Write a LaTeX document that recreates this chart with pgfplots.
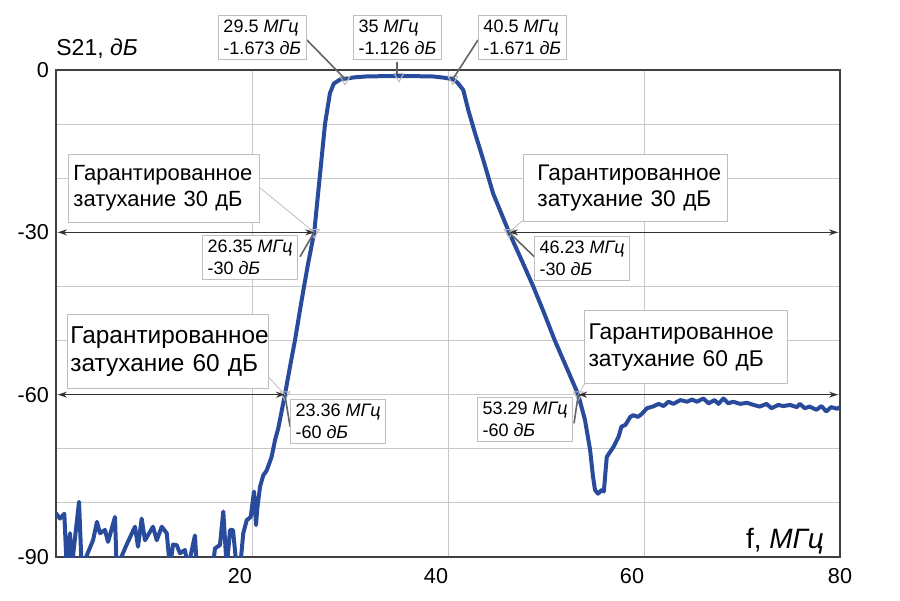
\documentclass[border=0pt]{standalone}
\usepackage{fontspec}
\setmainfont{Liberation Sans}
\usepackage{pgfplots}
\pgfplotsset{compat=1.18}
\usetikzlibrary{arrows.meta}
\definecolor{curveblue}{RGB}{40,76,155}
\definecolor{gridgray}{RGB}{200,200,200}
\definecolor{leadgray}{RGB}{100,100,100}
\definecolor{boxgray}{RGB}{190,190,190}

\begin{document}
\begin{tikzpicture}[
  smallbox/.style={draw=boxgray, fill=white, line width=0.5pt, align=left,
    font=\fontsize{9}{10.8}\selectfont, inner xsep=2.5pt, inner ysep=2.4pt},
  bigbox/.style={draw=boxgray, fill=white, line width=0.5pt, align=left, inner ysep=2pt},
  leader/.style={draw=leadgray, line width=0.8pt},
  thinleader/.style={draw=boxgray, line width=0.4pt},
  dimarrow/.style={draw=black!80, line width=0.6pt, {Stealth[length=4.5pt,width=3pt]}-{Stealth[length=4.5pt,width=3pt]}}
]
\begin{axis}[
  name=ax,
  scale only axis,
  width=392pt, height=243.5pt,
  xmin=0, xmax=80, ymin=-90, ymax=0,
  clip mode=individual,
  axis line style={draw=black!75, line width=0.9pt},
  xtick={20,40,60}, xticklabels={20,40,60},
  extra x ticks={80}, extra x tick labels={80},
  extra x tick style={grid=none, xticklabel style={xshift=6pt}},
  xticklabel style={xshift=-6pt, yshift=-2pt},
  ytick={-90,-60,-30,0}, yticklabels={-90,-60,-30,0},
  minor ytick={-80,-70,-50,-40,-20,-10},
  grid=both,
  major grid style={draw=gridgray, line width=0.5pt},
  minor grid style={draw=gridgray, line width=0.5pt},
  major tick length=0pt, minor tick length=0pt,
  ticklabel style={font=\fontsize{10.8}{12}\selectfont},
]
% measured S21 curve
\addplot[curveblue, line width=2pt, line join=round] coordinates {
(0,-81.9) (0.41,-82.9) (0.85,-82.0) (1.09,-92) (1.43,-85.6) (1.6,-92)
(2.35,-79.8) (2.62,-92) (3.78,-86.9) (4.18,-83.5) (4.49,-85.6) (5.0,-85.0)
(5.31,-87.2) (6.02,-82.6) (6.19,-92) (7.21,-87.7) (8.06,-84.4) (8.37,-88.1)
(8.74,-82.9) (9.08,-86.9) (9.9,-84.4) (10.28,-86.9) (10.79,-84.4) (11.3,-85.6)
(11.63,-92) (11.94,-87.7) (12.32,-87.8) (12.65,-89.3) (13.16,-88.7) (13.47,-92)
(14.18,-86.0) (14.36,-92) (15.0,-92) (16.0,-92) (16.22,-88.4) (16.73,-87.8)
(17.07,-81.6) (17.42,-92) (17.76,-85.0) (18.06,-85.0) (18.44,-92) (18.78,-92)
(19.11,-85.6) (19.46,-83.2) (19.87,-82.6) (20.2,-77.9) (20.41,-84.1) (20.54,-81.0)
(20.82,-77.0) (21.15,-74.9) (21.5,-74.0) (22.0,-71.5) (22.35,-68.4) (22.68,-66.2)
(23.36,-60.0) (23.88,-54.8) (24.39,-49.9) (25.07,-42.5) (25.7,-36.0) (26.35,-30.0)
(26.9,-20.0) (27.45,-10.0) (27.95,-4.3) (28.35,-2.5) (29.0,-1.75) (29.5,-1.6)
(30.5,-1.35) (31.6,-1.2) (33,-1.15) (35,-1.126) (37,-1.15) (38.5,-1.2)
(39.5,-1.4) (40.5,-1.671) (41.0,-2.4) (41.56,-3.7) (42.07,-7.4) (42.76,-11.7)
(43.6,-16.6) (44.6,-22.8) (46.23,-30.0) (47.5,-35.1) (48.7,-40.0) (49.8,-44.9)
(50.9,-50.0) (52.1,-55.0) (53.29,-60.0) (53.98,-64.7) (54.5,-70.2) (54.8,-75.2)
(55.0,-77.6) (55.3,-78.3) (55.7,-77.6) (55.9,-77.9) (56.2,-71.5) (56.9,-69.6)
(57.4,-67.8) (57.7,-65.9) (58.1,-65.6) (58.6,-64.1) (58.9,-63.8) (59.4,-64.1)
(59.8,-63.5) (60.3,-62.5) (60.9,-62.2) (61.5,-61.7) (62.0,-62.1) (62.5,-61.3)
(63.0,-61.7) (63.7,-61.0) (64.4,-61.3) (64.9,-60.9) (65.4,-61.3) (66.05,-60.7)
(66.6,-61.6) (67.2,-61.0) (67.6,-61.7) (68.1,-60.7) (68.6,-61.6) (69.1,-61.3)
(69.8,-61.7) (70.5,-61.5) (71.2,-61.9) (71.8,-62.2) (72.5,-61.7) (73.0,-62.5)
(73.7,-61.9) (74.2,-62.1) (74.9,-61.9) (75.6,-62.3) (75.9,-61.7) (76.4,-62.5)
(76.9,-62.2) (77.6,-62.8) (78.1,-62.1) (78.6,-63.1) (79.1,-62.3) (79.7,-62.6)
(80,-62.3)
};
% marker triangles
\addplot[only marks, mark=triangle, mark size=2.8pt,
  mark options={rotate=180, draw=boxgray, line width=0.5pt}] coordinates {
(29.5,-1.673) (35,-1.126) (40.5,-1.671) (26.35,-30) (46.23,-30) (23.36,-60) (53.29,-60)
};

% dimension arrows
\draw[dimarrow] (axis cs:0.2,-30) -- (axis cs:26.35,-30);
\draw[dimarrow] (axis cs:46.23,-30) -- (axis cs:79.8,-30);
\draw[dimarrow] (axis cs:0.2,-60) -- (axis cs:23.36,-60);
\draw[dimarrow] (axis cs:53.29,-60) -- (axis cs:79.8,-60);

% leader lines
\draw[leader] (axis cs:25.6,5.55) -- (axis cs:29.5,-1.67);
\draw[leader] (axis cs:34.8,1.5) -- (axis cs:34.8,-0.7);
\draw[leader] (axis cs:43.06,5.55) -- (axis cs:40.5,-1.67);
\draw[thinleader] (axis cs:20.7,-21.6) -- (axis cs:26.35,-30);
\draw[leader] (axis cs:24.9,-34.5) -- (axis cs:26.35,-30);
\draw[thinleader] (axis cs:47.7,-27.7) -- (axis cs:46.23,-30);
\draw[leader] (axis cs:48.8,-34.5) -- (axis cs:46.23,-30);
\draw[thinleader] (axis cs:21.66,-56.7) -- (axis cs:23.36,-60);
\draw[leader] (axis cs:23.88,-65.9) -- (axis cs:23.36,-60);
\draw[thinleader] (axis cs:53.98,-57.9) -- (axis cs:53.29,-60);
\draw[leader] (axis cs:52.86,-65.3) -- (axis cs:53.29,-60);

% marker label boxes
\node[smallbox, anchor=north west] at (axis cs:16.53,10.17) {29.5 \textit{МГц}\\-1.673 \textit{дБ}};
\node[smallbox, anchor=north west] at (axis cs:30.31,10.17) {35 \textit{МГц}\\-1.126 \textit{дБ}};
\node[smallbox, anchor=north west] at (axis cs:43.06,10.17) {40.5 \textit{МГц}\\-1.671 \textit{дБ}};
\node[smallbox, anchor=north west] at (axis cs:14.9,-30.45) {26.35 \textit{МГц}\\-30 \textit{дБ}};
\node[smallbox, anchor=north west] at (axis cs:48.78,-30.7) {46.23 \textit{МГц}\\-30 \textit{дБ}};
\node[smallbox, anchor=north west] at (axis cs:23.88,-60.8) {23.36 \textit{МГц}\\-60 \textit{дБ}};
\node[smallbox, anchor=north west] at (axis cs:42.96,-60.4) {53.29 \textit{МГц}\\-60 \textit{дБ}};

% guaranteed attenuation boxes
\node[bigbox, anchor=north west, inner xsep=2.5pt, text width=90.5pt, minimum height=34pt,
  font=\fontsize{11}{13}\selectfont] at (axis cs:1.22,-15.53)
  {Гарантированное\\затухание 30 дБ};
\node[bigbox, anchor=north west, inner xsep=7pt, text width=88pt, minimum height=33.5pt,
  font=\fontsize{11.3}{13.3}\selectfont] at (axis cs:47.65,-15.53)
  {Гарантированное\\затухание 30 дБ};
\node[bigbox, anchor=north west, inner xsep=1.5pt, text width=97.5pt, minimum height=37pt,
  font=\fontsize{12.2}{14}\selectfont] at (axis cs:1.12,-45.1)
  {Гарантированное\\затухание 60 дБ};
\node[bigbox, anchor=north west, inner xsep=2pt, text width=97.5pt, minimum height=36.5pt,
  font=\fontsize{11.4}{13.5}\selectfont] at (axis cs:53.88,-44.4)
  {Гарантированное\\затухание 60 дБ};

% axis titles
\node[anchor=base west, yshift=7.5pt, inner sep=0pt, font=\fontsize{11.5}{13}\selectfont]
  at (rel axis cs:0,1) {S21, \textit{дБ}};
\node[anchor=base east, inner sep=0pt, font=\fontsize{14}{16}\selectfont]
  at (axis cs:78.4,-88.4) {f, \textit{МГц}};
\end{axis}
\useasboundingbox ([shift={(-28pt,-21.5pt)}]ax.south west) rectangle ([shift={(30pt,35pt)}]ax.north east);
\end{tikzpicture}
\end{document}
